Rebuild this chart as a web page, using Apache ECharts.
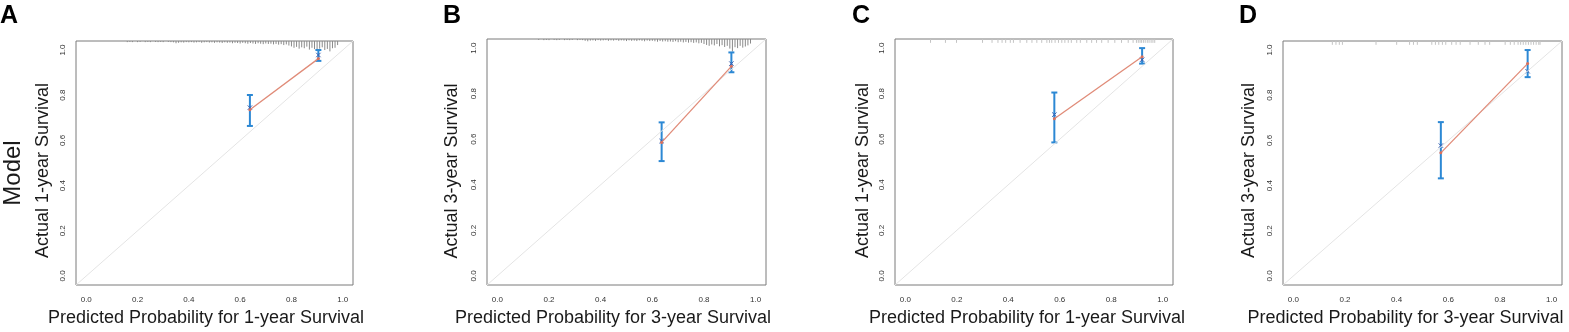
<!DOCTYPE html>
<html>
<head>
<meta charset="utf-8">
<script src="https://cdn.jsdelivr.net/npm/echarts@6/dist/echarts.min.js"></script>
<style>
  html, body { margin: 0; padding: 0; background: #fff; }
  #chart { width: 1569px; height: 332px; }
</style>
</head>
<body>
<div id="chart"></div>
<script>
// tick labels shared by all four panels
const tickValues = [0, 0.2, 0.4, 0.6, 0.8, 1.0];

const panelLetters = ["A", "B", "C", "D"];
const yTitles = ["Actual 1-year Survival", "Actual 3-year Survival", "Actual 1-year Survival", "Actual 3-year Survival"];
const xTitles = ["Predicted Probability for 1-year Survival", "Predicted Probability for 3-year Survival",
  "Predicted Probability for 1-year Survival", "Predicted Probability for 3-year Survival"];

// calibration groups: mean predicted, calibration line, observed (x mark), CI
const predA = [0.638, 0.905], lineA = [0.736, 0.962], obsA = [0.745, 0.978], loA = [0.664, 0.952], hiA = [0.801, 1.0];
const predB = [0.636, 0.906], lineB = [0.586, 0.920], obsB = [0.592, 0.932], loB = [0.504, 0.894], hiB = [0.674, 0.981];
const predC = [0.579, 0.920], lineC = [0.690, 0.962], obsC = [0.708, 0.949], loC = [0.586, 0.932], hiC = [0.805, 1.0];
const predD = [0.571, 0.907], lineD = [0.545, 0.940], obsD = [0.577, 0.906], loD = [0.432, 0.880], hiD = [0.681, 1.0];

// spike histogram of predicted risk (panels A, B): positions and spike heights
const spikeX = [0.16, 0.17, 0.18, 0.19, 0.20, 0.21, 0.22, 0.23, 0.24, 0.25, 0.26, 0.27, 0.28, 0.29, 0.30,
  0.31, 0.32, 0.33, 0.34, 0.35, 0.36, 0.37, 0.38, 0.39, 0.40, 0.41, 0.42, 0.43, 0.44, 0.45, 0.46, 0.47,
  0.48, 0.49, 0.50, 0.51, 0.52, 0.53, 0.54, 0.55, 0.56, 0.57, 0.58, 0.59, 0.60, 0.61, 0.62, 0.63, 0.64,
  0.65, 0.66, 0.67, 0.68, 0.69, 0.70, 0.71, 0.72, 0.73, 0.74, 0.75, 0.76, 0.77, 0.78, 0.79, 0.80, 0.81,
  0.82, 0.83, 0.84, 0.85, 0.86, 0.87, 0.88, 0.89, 0.90, 0.91, 0.92, 0.93, 0.94, 0.95, 0.96, 0.97, 0.98];
const spikeA = [0.005, 0.004, 0.005, 0, 0.005, 0.004, 0, 0.005, 0.004, 0.005, 0, 0.004, 0.005, 0.004, 0.005,
  0, 0.004, 0.005, 0.006, 0.010, 0.008, 0.006, 0.007, 0.005, 0.006, 0.005, 0.007, 0.006, 0.005, 0.008, 0.006, 0.005,
  0.007, 0.006, 0.008, 0.006, 0.007, 0.009, 0.006, 0.008, 0.007, 0.010, 0.008, 0.009, 0.011, 0.008, 0.010, 0.012, 0.009,
  0.011, 0.013, 0.010, 0.012, 0.014, 0.011, 0.013, 0.012, 0.015, 0.013, 0.016, 0.014, 0.018, 0.015, 0.020, 0.024, 0.030,
  0.026, 0.034, 0.028, 0.032, 0.025, 0.038, 0.030, 0.036, 0.044, 0.034, 0.028, 0.040, 0.035, 0.046, 0.032, 0.030, 0.018];
const spikeB = [0.004, 0, 0.005, 0.004, 0.005, 0, 0.004, 0.005, 0.004, 0, 0.005, 0.004, 0.005, 0.004, 0,
  0.005, 0.004, 0.005, 0.008, 0.010, 0.007, 0.006, 0.008, 0.005, 0.007, 0.006, 0.005, 0.008, 0.006, 0.007, 0.005, 0.008,
  0.006, 0.007, 0.009, 0.006, 0.008, 0.007, 0.009, 0.006, 0.008, 0.010, 0.007, 0.009, 0.008, 0.010, 0.012, 0.009, 0.011,
  0.010, 0.012, 0.011, 0.013, 0.010, 0.014, 0.012, 0.015, 0.013, 0.016, 0.014, 0.017, 0.015, 0.019, 0.017, 0.022, 0.026,
  0.030, 0.024, 0.028, 0.022, 0.032, 0.027, 0.035, 0.030, 0.042, 0.055, 0.036, 0.040, 0.030, 0.038, 0.033, 0.028, 0.020];

// simple rug of predicted values (panels C, D)
const rugC = [0.098, 0.156, 0.199, 0.300, 0.337, 0.360, 0.376, 0.390, 0.408, 0.420, 0.446, 0.472, 0.492, 0.511,
  0.530, 0.550, 0.560, 0.569, 0.582, 0.595, 0.608, 0.620, 0.633, 0.645, 0.666, 0.680, 0.705, 0.724, 0.743, 0.763,
  0.788, 0.814, 0.840, 0.866, 0.885, 0.898, 0.905, 0.912, 0.918, 0.925, 0.932, 0.940, 0.947, 0.955, 0.962, 0.969];
const rugD = [0.151, 0.165, 0.178, 0.190, 0.320, 0.400, 0.450, 0.465, 0.480, 0.536, 0.550, 0.563, 0.577, 0.590,
  0.613, 0.630, 0.646, 0.684, 0.716, 0.742, 0.760, 0.820, 0.840, 0.855, 0.870, 0.880, 0.890, 0.900, 0.910, 0.920,
  0.930, 0.940, 0.950, 0.955];

const FONT = "Liberation Sans, Arial, Helvetica, sans-serif";
const BLUE = "#2c88d4";
const RED = "#e08b78";

const panels = [
  { grid: { left: 76, top: 41, width: 277, height: 248 }, letter: 0, yGap: 24, yShift: 15, xShift: 17,
    pred: predA, line: lineA, obs: obsA, lo: loA, hi: hiA, spikes: spikeA, rug: null },
  { grid: { left: 487, top: 39, width: 279, height: 250 }, letter: 443, yGap: 26, yShift: 18, xShift: 27,
    pred: predB, line: lineB, obs: obsB, lo: loB, hi: hiB, spikes: spikeB, rug: null },
  { grid: { left: 895, top: 39, width: 278, height: 250 }, letter: 852, yGap: 23, yShift: 17, xShift: 14,
    pred: predC, line: lineC, obs: obsC, lo: loC, hi: hiC, spikes: null, rug: rugC },
  { grid: { left: 1283, top: 41, width: 279, height: 248 }, letter: 1239, yGap: 25, yShift: 15, xShift: 34,
    pred: predD, line: lineD, obs: obsD, lo: loD, hi: hiD, spikes: null, rug: rugD },
];

const chart = echarts.init(document.getElementById("chart"), null, { renderer: "canvas" });

const grids = [], xAxes = [], yAxes = [], series = [], titles = [];

panels.forEach((p, i) => {
  grids.push(Object.assign({ show: true, borderColor: "#7a7a7a", borderWidth: 1, backgroundColor: "#fff" }, p.grid));

  titles.push({
    text: panelLetters[i], left: p.letter, top: 4, padding: 0,
    textStyle: { fontSize: 25, fontWeight: "bold", color: "#000", fontFamily: FONT },
  });

  xAxes.push({
    type: "value", gridIndex: i, min: -0.04, max: 1.04,
    splitLine: { show: false }, axisLine: { show: false }, axisTick: { show: false },
    axisLabel: { customValues: tickValues, formatter: (v) => v.toFixed(1), fontSize: 8, color: "#333", margin: 11, fontFamily: FONT },
    name: xTitles[i], nameLocation: "middle", nameGap: 24,
    nameTextStyle: { fontSize: 18, color: "#1a1a1a", fontFamily: FONT, padding: [0, p.xShift, 0, 0] },
  });

  yAxes.push({
    type: "value", gridIndex: i, min: -0.04, max: 1.04,
    splitLine: { show: false }, axisLine: { show: false }, axisTick: { show: false },
    axisLabel: { customValues: tickValues, formatter: (v) => v.toFixed(1), fontSize: 8, color: "#333", margin: 9, rotate: 90, fontFamily: FONT },
    name: yTitles[i], nameLocation: "middle", nameGap: p.yGap,
    nameTextStyle: { fontSize: 18, color: "#1a1a1a", fontFamily: FONT, padding: [0, p.yShift, 0, 0] },
  });

  // ideal 45 degree line
  series.push({
    type: "line", xAxisIndex: i, yAxisIndex: i, silent: true, symbol: "none",
    data: [[-0.04, -0.04], [1.04, 1.04]],
    lineStyle: { color: "#e4e4e4", width: 1 },
  });

  // spike histogram / rug hanging from the top border
  const rugData = p.spikes ? spikeX.map((x, k) => [x, p.spikes[k]]) : p.rug.map((x) => [x, 0.017]);
  series.push({
    type: "custom", xAxisIndex: i, yAxisIndex: i, silent: true,
    data: rugData,
    renderItem: (params, api) => {
      const h = api.value(1);
      if (!h) return null;
      const a = api.coord([api.value(0), 1.04]);
      const b = api.coord([api.value(0), 1.04 - h]);
      return {
        type: "line",
        shape: { x1: a[0], y1: a[1], x2: b[0], y2: b[1] },
        style: { stroke: p.spikes ? "#8a8a8a" : "#c4c4c4", lineWidth: 1 },
      };
    },
  });

  // calibration line
  series.push({
    type: "line", xAxisIndex: i, yAxisIndex: i, silent: true,
    data: p.pred.map((x, k) => [x, p.line[k]]),
    symbol: "circle", symbolSize: 3, showSymbol: true,
    itemStyle: { color: "#d9705c" },
    lineStyle: { color: RED, width: 1.3 },
  });

  // error bars with observed x marks
  series.push({
    type: "custom", xAxisIndex: i, yAxisIndex: i, silent: true,
    data: p.pred.map((x, k) => [x, p.lo[k], p.hi[k], p.obs[k]]),
    renderItem: (params, api) => {
      const lo = api.coord([api.value(0), api.value(1)]);
      const hi = api.coord([api.value(0), api.value(2)]);
      const ob = api.coord([api.value(0), api.value(3)]);
      const s = { stroke: BLUE, lineWidth: 2 };
      const cx = lo[0], w = 3, m = 2.2;
      return {
        type: "group",
        children: [
          { type: "line", shape: { x1: cx, y1: lo[1], x2: cx, y2: hi[1] }, style: s },
          { type: "line", shape: { x1: cx - w, y1: lo[1], x2: cx + w, y2: lo[1] }, style: s },
          { type: "line", shape: { x1: cx - w, y1: hi[1], x2: cx + w, y2: hi[1] }, style: s },
          { type: "line", shape: { x1: cx - m, y1: ob[1] - m, x2: cx + m, y2: ob[1] + m }, style: { stroke: "#3a5fb0", lineWidth: 1 } },
          { type: "line", shape: { x1: cx - m, y1: ob[1] + m, x2: cx + m, y2: ob[1] - m }, style: { stroke: "#3a5fb0", lineWidth: 1 } },
        ],
      };
    },
  });
});

chart.setOption({
  animation: false,
  backgroundColor: "#fff",
  title: titles,
  grid: grids,
  xAxis: xAxes,
  yAxis: yAxes,
  series: series,
  graphic: [{
    type: "text", x: 13, y: 173, rotation: Math.PI / 2,
    style: { text: "Model", fontSize: 24, fontFamily: FONT, fill: "#1a1a1a", align: "center", verticalAlign: "middle" },
  }],
});

window.addEventListener("resize", () => {
  chart.resize();
});
</script>
</body>
</html>
